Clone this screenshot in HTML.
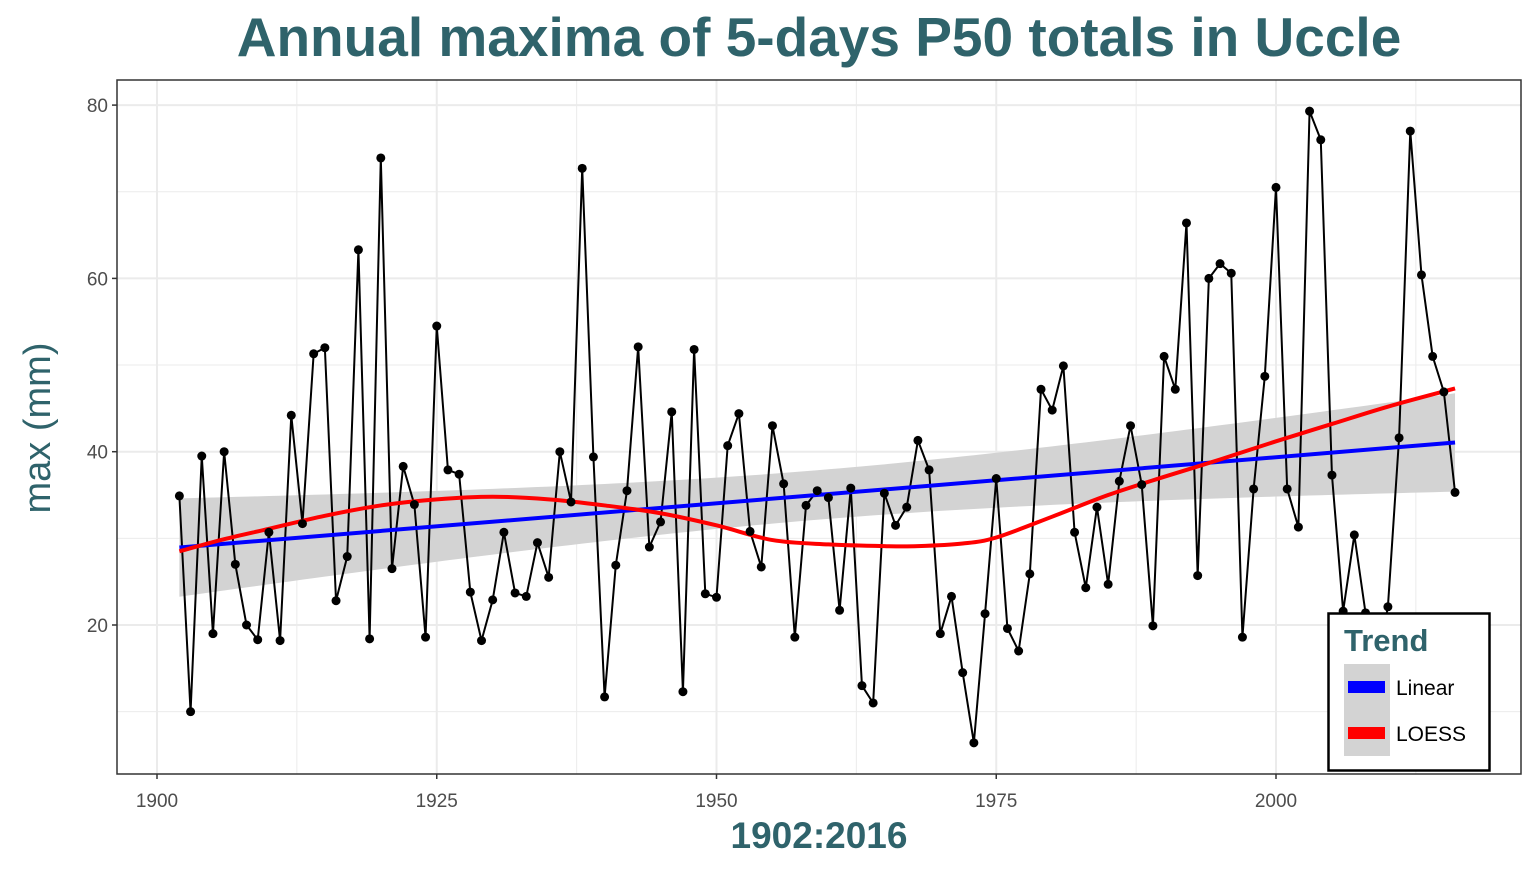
<!DOCTYPE html>
<html><head><meta charset="utf-8"><style>
body{margin:0;background:#fff}
svg text{font-family:"Liberation Sans",sans-serif}
</style></head><body>
<svg id="c" width="1536" height="864">
<text x="819" y="56" text-anchor="middle" font-size="55" font-weight="bold" fill="#2f636b">Annual maxima of 5-days P50 totals in Uccle</text>
<text x="819" y="848" text-anchor="middle" font-size="37" font-weight="bold" fill="#2f636b">1902:2016</text>
<text transform="translate(50,428) rotate(-90)" text-anchor="middle" font-size="38" fill="#2f636b">max (mm)</text>
<g id="grid"></g><g id="band"></g><g id="lines"></g><g id="pts"></g><g id="axes"></g>
</svg>
<script>
const years=[];for(let y=1902;y<=2016;y++)years.push(y);
const values=[34.9,10,39.5,19,40,27,20,18.3,30.7,18.2,44.2,31.7,51.3,52,22.8,27.9,63.3,18.4,73.9,26.5,38.3,33.9,18.6,54.5,37.9,37.4,23.8,18.2,22.9,30.7,23.7,23.3,29.5,25.5,40,34.2,72.7,39.4,11.7,26.9,35.5,52.1,29,31.9,44.6,12.3,51.8,23.6,23.2,40.7,44.4,30.8,26.7,43,36.3,18.6,33.8,35.5,34.7,21.7,35.8,13,11,35.2,31.5,33.6,41.3,37.9,19,23.3,14.5,6.4,21.3,36.9,19.6,17,25.9,47.2,44.8,49.9,30.7,24.3,33.6,24.7,36.6,43,36.2,19.9,51,47.2,66.4,25.7,60,61.7,60.6,18.6,35.7,48.7,70.5,35.7,31.3,79.3,76,37.3,21.6,30.4,21.4,15,22.1,41.6,77,60.4,51,46.9,35.3];
const loessYears=[1902,1906,1910,1915,1920,1925,1930,1935,1940,1945,1950,1955,1960,1965,1968,1972,1975,1980,1985,1990,1995,2000,2005,2010,2016];
const loessVals=[28.5,29.9,31.1,32.6,33.8,34.5,34.8,34.5,33.8,32.9,31.5,29.8,29.3,29.1,29.1,29.4,30.1,32.5,35,37.1,39.1,41.2,43.2,45.2,47.3];
const xTicks=[1900,1925,1950,1975,2000];
const yTicks=[20,40,60,80];
const X=v=>157+(v-1900)*11.19, Y=v=>625-(v-20)*8.665;
const L=117,R=1521,T=80,B=774,NS='http://www.w3.org/2000/svg';
function mk(p,t,a){const e=document.createElementNS(NS,t);for(const k in a)e.setAttribute(k,a[k]);document.getElementById(p).appendChild(e);return e;}
for(let v=10;v<=80;v+=10){const e=mk('grid','line',{x1:L,x2:R,y1:Y(v),y2:Y(v),stroke:'#ebebeb','stroke-width':v%20?1:2});

}
for(let v=1900;v<=2012.5;v+=12.5){const e=mk('grid','line',{y1:T,y2:B,x1:X(v),x2:X(v),stroke:'#ebebeb','stroke-width':v%25?1:2});

}
const n=years.length,mx=years.reduce((a,b)=>a+b)/n,my=values.reduce((a,b)=>a+b)/n;
let sxx=0,sxy=0;years.forEach((x,i)=>{sxx+=(x-mx)**2;sxy+=(x-mx)*(values[i]-my)});
const b=sxy/sxx,a=my-b*mx;let sse=0;years.forEach((x,i)=>sse+=(values[i]-a-b*x)**2);
const s=Math.sqrt(sse/(n-2)),tq=1.98;
let up=[],lo=[];for(let x=1902;x<=2016;x+=1){const f=a+b*x,se=s*Math.sqrt(1/n+(x-mx)**2/sxx);up.push(X(x)+','+Y(f+tq*se));lo.unshift(X(x)+','+Y(f-tq*se));}
let e=mk('band','polygon',{points:up.concat(lo).join(' '),fill:'#d3d3d3'});


e=mk('lines','polyline',{points:years.map((y,i)=>X(y)+','+Y(values[i])).join(' '),fill:'none',stroke:'#000','stroke-width':2});


e=mk('lines','line',{x1:X(1902),y1:Y(a+b*1902),x2:X(2016),y2:Y(a+b*2016),stroke:'#0000ff','stroke-width':4});


const P=loessYears.map((y,i)=>[X(y),Y(loessVals[i])]);let d='M'+P[0];
for(let i=0;i<P.length-1;i++){const p0=P[i-1]||P[i],p1=P[i],p2=P[i+1],p3=P[i+2]||p2;
d+=` C${p1[0]+(p2[0]-p0[0])/6},${p1[1]+(p2[1]-p0[1])/6} ${p2[0]-(p3[0]-p1[0])/6},${p2[1]-(p3[1]-p1[1])/6} ${p2[0]},${p2[1]}`;}
e=mk('lines','path',{d:d,fill:'none',stroke:'#ff0000','stroke-width':4});


years.forEach((y,i)=>{const c=mk('pts','circle',{cx:X(y),cy:Y(values[i]),r:4.5,fill:'#000'});

});
e=mk('axes','rect',{x:L,y:T,width:R-L,height:B-T,fill:'none',stroke:'#333','stroke-width':1.5});


yTicks.forEach(v=>{mk('axes','line',{x1:L-5,x2:L,y1:Y(v),y2:Y(v),stroke:'#333','stroke-width':1.5});
const t=mk('axes','text',{x:L-9,y:Y(v)+7,'text-anchor':'end','font-size':19,fill:'#4d4d4d'});t.textContent=v;

});
xTicks.forEach(v=>{mk('axes','line',{x1:X(v),x2:X(v),y1:B,y2:B+5,stroke:'#333','stroke-width':1.5});
const t=mk('axes','text',{x:X(v),y:B+33,'text-anchor':'middle','font-size':19,fill:'#4d4d4d'});t.textContent=v;

});
</script>
<svg style="position:absolute;left:0;top:0" width="1536" height="864">
<rect x="1328.5" y="613.5" width="161" height="157" fill="#fff" stroke="#000" stroke-width="2.5"/>
<text x="1344" y="651" font-size="31" font-weight="bold" fill="#2f636b" font-family="Liberation Sans">Trend</text>
<rect x="1344" y="664" width="46" height="92" fill="#d3d3d3"/>
<rect x="1348" y="681" width="37" height="12" fill="#0000ff"/>
<rect x="1348" y="727" width="37" height="12" fill="#ff0000"/>
<text x="1396" y="695" font-size="21" font-family="Liberation Sans">Linear</text>
<text x="1396" y="741" font-size="21" font-family="Liberation Sans">LOESS</text>
</svg>
</body></html>
